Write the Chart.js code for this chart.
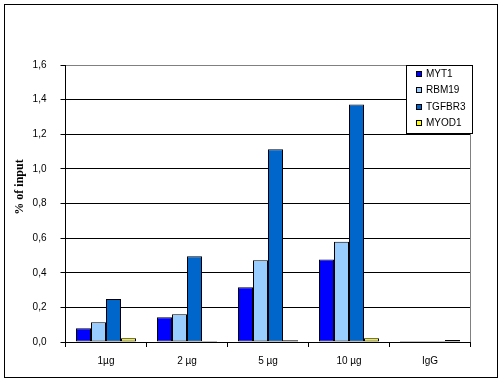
<!DOCTYPE html>
<html><head><meta charset="utf-8">
<script src="https://cdn.jsdelivr.net/npm/chart.js@4/dist/chart.umd.min.js"></script>
<style>html,body{margin:0;padding:0;background:#fff}#wrap{width:504px;height:383px}</style>
</head><body><div id="wrap"><canvas id="c" width="504" height="383"></canvas></div>
<script>
const categories = ['1µg', '2 µg', '5 µg', '10 µg', 'IgG'];
const seriesNames = ['MYT1', 'RBM19', 'TGFBR3', 'MYOD1'];
const MYT1 = [0.079, 0.143, 0.316, 0.477, 0.006];
const RBM19 = [0.114, 0.160, 0.472, 0.579, 0.006];
const TGFBR3 = [0.248, 0.495, 1.113, 1.372, 0.006];
const MYOD1 = [0.021, 0.006, 0.010, 0.021, 0.011];
const yTicks = [0, 0.2, 0.4, 0.6, 0.8, 1.0, 1.2, 1.4, 1.6];
const yTitle = '% of input';
const colors = ['#0000FF', '#99CCFF', '#0066CC', '#FFFF00'];
const values = [MYT1, RBM19, TGFBR3, MYOD1];

const frame = {
  id: 'frame',
  afterDraw(chart) {
    const ctx = chart.ctx, a = chart.chartArea;
    ctx.save();
    // right plot border (gray)
    ctx.strokeStyle = '#808080'; ctx.lineWidth = 1;
    ctx.beginPath(); ctx.moveTo(a.right, a.top); ctx.lineTo(a.right, a.bottom); ctx.stroke();
    // legend box
    const lx = 406.5, ly = 65.5, lw = 66, lh = 68;
    ctx.fillStyle = '#fff'; ctx.fillRect(lx, ly, lw, lh);
    ctx.strokeStyle = '#000'; ctx.strokeRect(lx, ly, lw, lh);
    ctx.font = '10px "Liberation Sans", Arial, sans-serif';
    ctx.textBaseline = 'middle'; ctx.textAlign = 'left';
    chart.data.datasets.forEach((ds, i) => {
      const y = Math.round(74 + i * 16.4);
      ctx.fillStyle = ds.backgroundColor;
      ctx.fillRect(416.5, y - 2.5, 5, 5);
      ctx.strokeStyle = '#000';
      ctx.strokeRect(416.5, y - 2.5, 5, 5);
      ctx.fillStyle = '#000';
      ctx.fillText(ds.label, 426, y + 0.5);
    });
    // y axis title
    ctx.save();
    ctx.translate(20, 187);
    ctx.rotate(-Math.PI / 2);
    ctx.font = 'bold 12px "Liberation Serif", "Times New Roman", serif';
    ctx.textAlign = 'center'; ctx.textBaseline = 'middle';
    ctx.fillStyle = '#000';
    ctx.fillText(yTitle, 0, 0);
    ctx.restore();
    // outer border
    ctx.strokeStyle = '#000';
    ctx.strokeRect(4.5, 4.5, 493, 373);
    ctx.restore();
  }
};

new Chart(document.getElementById('c'), {
  type: 'bar',
  data: {
    labels: categories,
    datasets: seriesNames.map((n, i) => ({
      label: n, data: values[i], backgroundColor: colors[i],
      borderColor: '#000', borderWidth: 1, borderSkipped: false, inflateAmount: 0,
      barPercentage: 1, categoryPercentage: 60 / 81
    }))
  },
  options: {
    responsive: false, animation: false, devicePixelRatio: 1,
    layout: { padding: { left: 4, right: 33.5, top: 65, bottom: 0 } },
    plugins: { legend: { display: false }, tooltip: { enabled: false } },
    scales: {
      x: {
        grid: { display: true, drawOnChartArea: false, color: '#000', tickLength: 5, offset: true },
        border: { color: '#000' },
        ticks: { color: '#000', padding: 8, font: { family: '"Liberation Sans", Arial, sans-serif', size: 10 } },
        afterFit(s) { s.height = 383 - 342; }
      },
      y: {
        min: 0, max: 1.6,
        afterBuildTicks(s) { s.ticks = yTicks.map(v => ({ value: v })); },
        grid: {
          color: c => (c.tick && c.tick.value === 1.6) ? '#808080' : '#000',
          tickColor: '#000', tickLength: 5
        },
        border: { color: '#000' },
        ticks: {
          color: '#000', padding: 14,
          font: { family: '"Liberation Sans", Arial, sans-serif', size: 10 },
          callback: v => v.toFixed(1).replace('.', ',')
        },
        afterFit(s) { s.width = 61.5; }
      }
    }
  },
  plugins: [frame]
});
</script></body></html>
